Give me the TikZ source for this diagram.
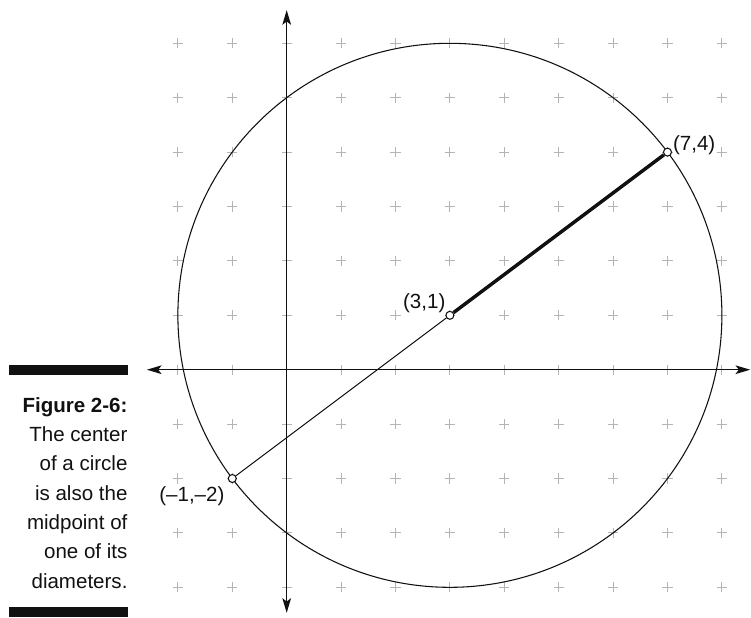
\documentclass[tikz,border=0pt]{standalone}
\usepackage{fontspec}
\setmainfont{Liberation Sans}
\usetikzlibrary{arrows.meta, positioning}
\definecolor{cgrid}{HTML}{B4B4B4}
\definecolor{cink}{HTML}{111111}
\tikzset{
  every picture/.style={font=\fontsize{15.4}{22}\selectfont, line width=0.8pt},
  gridmark/.style={draw=cgrid, line width=0.8pt},
  axis/.style={{Stealth[length=11pt, width=6.5pt, inset=2.5pt]}-{Stealth[length=11pt, width=6.5pt, inset=2.5pt]}, draw=cink, line width=1pt},
  rim/.style={draw=cink, line width=0.8pt},
  dot/.style={circle, draw=cink, fill=white, inner sep=0pt, minimum size=6pt, line width=0.8pt},
  radius line/.style={draw=cink, line width=0.75pt},
  diam line/.style={draw=cink, line width=2.6pt},
  lbl/.style={inner sep=0pt, text=cink},
  caption/.style={inner sep=0pt, align=right, text=cink},
}

\begin{document}
\begin{tikzpicture}[x=40.8pt, y=40.8pt]
  \useasboundingbox (-5.27,-4.546) rectangle (8.535,6.796);
  % grid of plus marks
  \foreach \i in {-2,...,8} {
    \foreach \j in {-4,...,6} {
      \draw[gridmark] (\i-0.095,\j) -- (\i+0.095,\j) (\i,\j-0.095) -- (\i,\j+0.095);
    }
  }
  % axes
  \coordinate (xmin) at (-2.57,0);
  \coordinate (xmax) at (8.52,0);
  \coordinate (ymin) at (0,-4.47);
  \coordinate (ymax) at (0,6.61);
  \draw[axis] (xmin) -- (xmax);
  \draw[axis] (ymin) -- (ymax);
  % circle about the center
  \draw[rim] (3,1) circle[radius=5];
  % points of the diameter
  \node[dot] (A) at (-1,-2) {};
  \node[dot] (M) at (3,1) {};
  \node[dot] (B) at (7,4) {};
  \draw[radius line] (A) -- (M);
  \draw[diam line] (M) -- (B);
  \node[lbl, anchor=base east, xshift=-3pt, yshift=5.2pt] (lM) at (M) {(3,1)};
  \node[lbl, anchor=base west, xshift=3.8pt, yshift=1.5pt] (lB) at (B) {(7,4)};
  \node[lbl, anchor=base east, xshift=-5.5pt, yshift=-17.4pt] (lA) at (A) {(–1,–2)};
  % caption with bars
  \fill[cink] (-5.105,-0.097) rectangle (-2.917,0.086);
  \fill[cink] (-5.105,-4.546) rectangle (-2.917,-4.368);
  \node[caption, anchor=north east] (cap) at (-2.917,-0.50) {\textbf{Figure 2-6:}\\The center\\of a circle\\is also the\\midpoint of\\one of its\\diameters.};
\end{tikzpicture}
\end{document}
